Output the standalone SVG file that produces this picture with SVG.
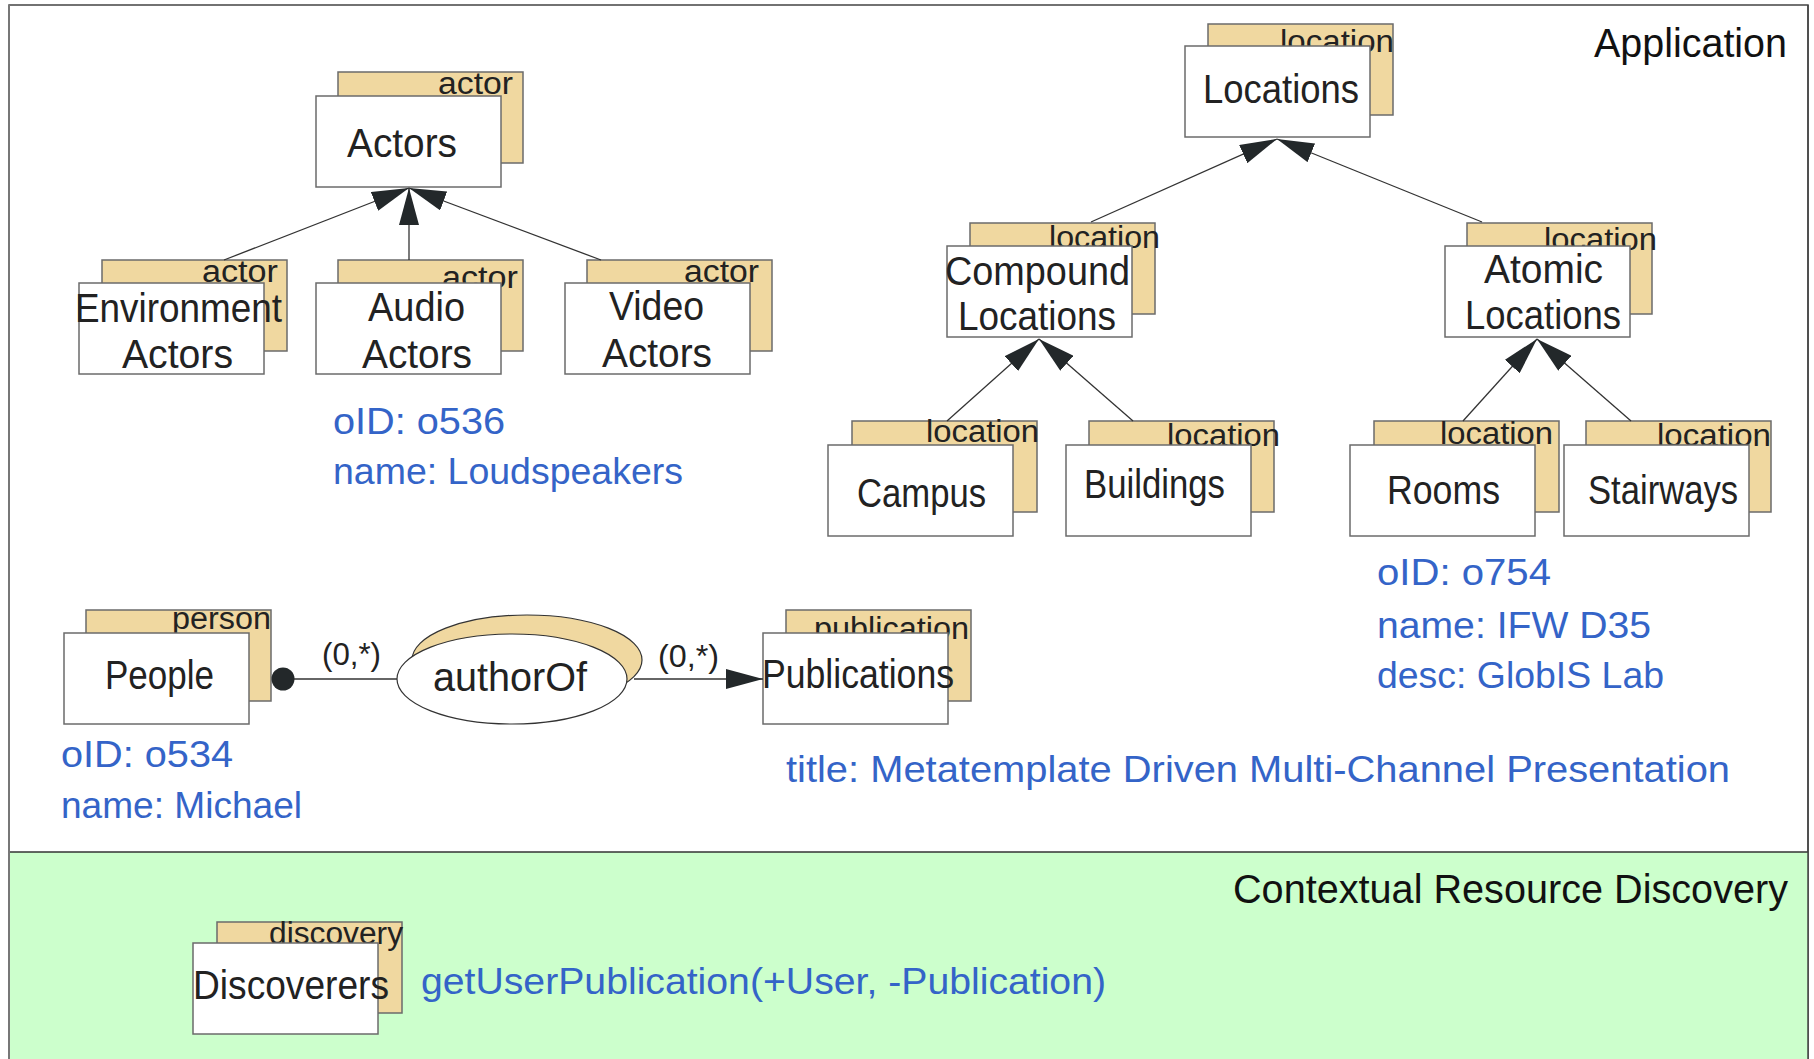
<svg xmlns="http://www.w3.org/2000/svg" width="1814" height="1059" viewBox="0 0 1814 1059">
  <style>
    text { font-family: "Liberation Sans", Arial, sans-serif; }
    .tan { fill: #f0d8a0; stroke: #6b6b6b; stroke-width: 1.5; }
    .box { fill: #ffffff; stroke: #6b6b6b; stroke-width: 1.5; }
    .st { font-size: 31px; fill: #222222; }
    .lb { font-size: 40px; fill: #222222; }
    .bl { font-size: 37px; fill: #3464c8; }
    .card { font-size: 31px; fill: #222222; }
    .title { font-size: 40px; fill: #111111; }
    .edge { stroke: #333333; stroke-width: 1.3; fill: none; }
  </style>
  <defs>
    <marker id="tri" markerUnits="userSpaceOnUse" viewBox="0 0 37 20" refX="37" refY="10" markerWidth="37" markerHeight="20" orient="auto">
      <path d="M0,0 L37,10 L0,20 Z" fill="#23282a"/>
    </marker>
  </defs>

  <!-- frame -->
  <rect x="9" y="5" width="1799" height="1070" fill="#ffffff" stroke="#444444" stroke-width="1.5"/>
  <rect x="9" y="852" width="1799" height="215" fill="#ccffcc"/>
  <line x1="9" y1="852" x2="1808" y2="852" stroke="#333333" stroke-width="1.5"/>
  <line x1="9" y1="5" x2="9" y2="1059" stroke="#777777" stroke-width="2"/>
  <line x1="1808" y1="5" x2="1808" y2="1059" stroke="#444444" stroke-width="1.5"/>

  <text class="title" x="1594" y="57" textLength="193" lengthAdjust="spacingAndGlyphs">Application</text>
  <text class="title" x="1233" y="903" textLength="555" lengthAdjust="spacingAndGlyphs">Contextual Resource Discovery</text>

  <!-- nodes -->
  <g id="actors">
    <rect class="tan" x="338" y="72" width="185" height="91"/>
    <text class="st" x="438" y="94" textLength="75" lengthAdjust="spacingAndGlyphs">actor</text>
    <rect class="box" x="316" y="96" width="185" height="91"/>
    <text class="lb" x="347" y="157" textLength="110" lengthAdjust="spacingAndGlyphs">Actors</text>
  </g>
  <g id="environment-actors">
    <rect class="tan" x="102" y="260" width="185" height="91"/>
    <text class="st" x="202" y="282" textLength="76" lengthAdjust="spacingAndGlyphs">actor</text>
    <rect class="box" x="79" y="283" width="185" height="91"/>
    <text class="lb" x="75" y="322" textLength="207" lengthAdjust="spacingAndGlyphs">Environment</text>
    <text class="lb" x="122" y="368" textLength="111" lengthAdjust="spacingAndGlyphs">Actors</text>
  </g>
  <g id="audio-actors">
    <rect class="tan" x="338" y="260" width="185" height="91"/>
    <text class="st" x="442" y="288" textLength="76" lengthAdjust="spacingAndGlyphs">actor</text>
    <rect class="box" x="316" y="283" width="185" height="91"/>
    <text class="lb" x="368" y="321" textLength="97" lengthAdjust="spacingAndGlyphs">Audio</text>
    <text class="lb" x="362" y="368" textLength="110" lengthAdjust="spacingAndGlyphs">Actors</text>
  </g>
  <g id="video-actors">
    <rect class="tan" x="587" y="260" width="185" height="91"/>
    <text class="st" x="684" y="282" textLength="75" lengthAdjust="spacingAndGlyphs">actor</text>
    <rect class="box" x="565" y="283" width="185" height="91"/>
    <text class="lb" x="609" y="320" textLength="95" lengthAdjust="spacingAndGlyphs">Video</text>
    <text class="lb" x="602" y="367" textLength="110" lengthAdjust="spacingAndGlyphs">Actors</text>
  </g>

  <g id="locations">
    <rect class="tan" x="1208" y="24" width="185" height="91"/>
    <text class="st" x="1280" y="52" textLength="114" lengthAdjust="spacingAndGlyphs">location</text>
    <rect class="box" x="1185" y="46" width="185" height="91"/>
    <text class="lb" x="1203" y="103" textLength="156" lengthAdjust="spacingAndGlyphs">Locations</text>
  </g>
  <g id="compound-locations">
    <rect class="tan" x="970" y="223" width="185" height="91"/>
    <text class="st" x="1049" y="248" textLength="111" lengthAdjust="spacingAndGlyphs">location</text>
    <rect class="box" x="947" y="246" width="185" height="91"/>
    <text class="lb" x="945" y="285" textLength="185" lengthAdjust="spacingAndGlyphs">Compound</text>
    <text class="lb" x="958" y="330" textLength="158" lengthAdjust="spacingAndGlyphs">Locations</text>
  </g>
  <g id="atomic-locations">
    <rect class="tan" x="1467" y="223" width="185" height="91"/>
    <text class="st" x="1544" y="250" textLength="113" lengthAdjust="spacingAndGlyphs">location</text>
    <rect class="box" x="1445" y="246" width="185" height="91"/>
    <text class="lb" x="1484" y="283" textLength="119" lengthAdjust="spacingAndGlyphs">Atomic</text>
    <text class="lb" x="1465" y="329" textLength="156" lengthAdjust="spacingAndGlyphs">Locations</text>
  </g>
  <g id="campus">
    <rect class="tan" x="852" y="421" width="185" height="91"/>
    <text class="st" x="926" y="442" textLength="113" lengthAdjust="spacingAndGlyphs">location</text>
    <rect class="box" x="828" y="445" width="185" height="91"/>
    <text class="lb" x="857" y="507" textLength="129" lengthAdjust="spacingAndGlyphs">Campus</text>
  </g>
  <g id="buildings">
    <rect class="tan" x="1089" y="421" width="185" height="91"/>
    <text class="st" x="1167" y="446" textLength="113" lengthAdjust="spacingAndGlyphs">location</text>
    <rect class="box" x="1066" y="445" width="185" height="91"/>
    <text class="lb" x="1084" y="498" textLength="141" lengthAdjust="spacingAndGlyphs">Buildings</text>
  </g>
  <g id="rooms">
    <rect class="tan" x="1374" y="421" width="185" height="91"/>
    <text class="st" x="1440" y="444" textLength="113" lengthAdjust="spacingAndGlyphs">location</text>
    <rect class="box" x="1350" y="445" width="185" height="91"/>
    <text class="lb" x="1387" y="504" textLength="113" lengthAdjust="spacingAndGlyphs">Rooms</text>
  </g>
  <g id="stairways">
    <rect class="tan" x="1586" y="421" width="185" height="91"/>
    <text class="st" x="1657" y="446" textLength="114" lengthAdjust="spacingAndGlyphs">location</text>
    <rect class="box" x="1564" y="445" width="185" height="91"/>
    <text class="lb" x="1588" y="504" textLength="150" lengthAdjust="spacingAndGlyphs">Stairways</text>
  </g>

  <g id="people">
    <rect class="tan" x="86" y="610" width="185" height="91"/>
    <text class="st" x="172" y="629" textLength="99" lengthAdjust="spacingAndGlyphs">person</text>
    <rect class="box" x="64" y="633" width="185" height="91"/>
    <text class="lb" x="105" y="689" textLength="109" lengthAdjust="spacingAndGlyphs">People</text>
  </g>
  <g id="author-of">
    <ellipse cx="527" cy="660" rx="115" ry="45" fill="#f0d8a0" stroke="#333333" stroke-width="1.2"/>
    <ellipse cx="512" cy="679" rx="115" ry="45" fill="#ffffff" stroke="#333333" stroke-width="1.2"/>
    <text class="lb" x="433" y="691" textLength="154" lengthAdjust="spacingAndGlyphs">authorOf</text>
  </g>
  <g id="publications">
    <rect class="tan" x="786" y="610" width="185" height="91"/>
    <text class="st" x="814" y="639" textLength="155" lengthAdjust="spacingAndGlyphs">publication</text>
    <rect class="box" x="763" y="633" width="185" height="91"/>
    <text class="lb" x="762" y="688" textLength="192" lengthAdjust="spacingAndGlyphs">Publications</text>
  </g>
  <g id="discoverers">
    <rect class="tan" x="217" y="922" width="185" height="91"/>
    <text class="st" x="269" y="944" textLength="134" lengthAdjust="spacingAndGlyphs">discovery</text>
    <rect class="box" x="193" y="943" width="185" height="91"/>
    <text class="lb" x="193" y="999" textLength="196" lengthAdjust="spacingAndGlyphs">Discoverers</text>
  </g>

  <!-- connectors -->
  <g id="connectors">
    <line class="edge" x1="224" y1="260" x2="409" y2="188" marker-end="url(#tri)"/>
    <line class="edge" x1="409" y1="260" x2="409" y2="188" marker-end="url(#tri)"/>
    <line class="edge" x1="601" y1="260" x2="409" y2="188" marker-end="url(#tri)"/>
    <line class="edge" x1="1091" y1="222" x2="1277" y2="139" marker-end="url(#tri)"/>
    <line class="edge" x1="1482" y1="222" x2="1277" y2="139" marker-end="url(#tri)"/>
    <line class="edge" x1="947" y1="421" x2="1039" y2="339" marker-end="url(#tri)"/>
    <line class="edge" x1="1133" y1="421" x2="1039" y2="339" marker-end="url(#tri)"/>
    <line class="edge" x1="1463" y1="421" x2="1537" y2="339" marker-end="url(#tri)"/>
    <line class="edge" x1="1631" y1="421" x2="1537" y2="339" marker-end="url(#tri)"/>
    <line class="edge" x1="283" y1="679" x2="397" y2="679" stroke="#555555"/>
    <circle cx="283" cy="679" r="11.5" fill="#23282a"/>
    <line class="edge" x1="634" y1="679" x2="763" y2="679" stroke="#555555" marker-end="url(#tri)"/>
    <text class="card" x="322" y="665" textLength="59" lengthAdjust="spacingAndGlyphs">(0,*)</text>
    <text class="card" x="658" y="667" textLength="61" lengthAdjust="spacingAndGlyphs">(0,*)</text>
  </g>

  <!-- instance annotations -->
  <text class="bl" x="333" y="434" textLength="172" lengthAdjust="spacingAndGlyphs">oID: o536</text>
  <text class="bl" x="333" y="484" textLength="350" lengthAdjust="spacingAndGlyphs">name: Loudspeakers</text>
  <text class="bl" x="1377" y="585" textLength="174" lengthAdjust="spacingAndGlyphs">oID: o754</text>
  <text class="bl" x="1377" y="638" textLength="274" lengthAdjust="spacingAndGlyphs">name: IFW D35</text>
  <text class="bl" x="1377" y="688" textLength="287" lengthAdjust="spacingAndGlyphs">desc: GlobIS Lab</text>
  <text class="bl" x="61" y="767" textLength="172" lengthAdjust="spacingAndGlyphs">oID: o534</text>
  <text class="bl" x="61" y="818" textLength="241" lengthAdjust="spacingAndGlyphs">name: Michael</text>
  <text class="bl" x="786" y="782" textLength="944" lengthAdjust="spacingAndGlyphs">title: Metatemplate Driven Multi-Channel Presentation</text>
  <text class="bl" x="421" y="994" textLength="685" lengthAdjust="spacingAndGlyphs">getUserPublication(+User, -Publication)</text>
</svg>
